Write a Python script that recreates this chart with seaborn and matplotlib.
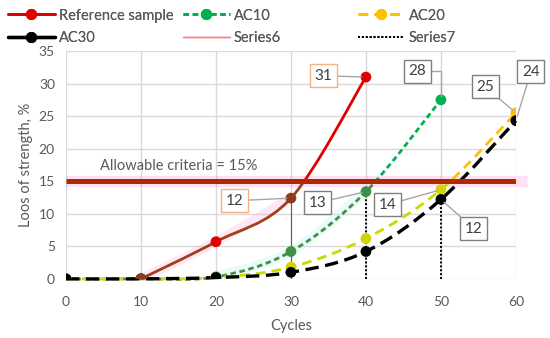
import numpy as np
import pandas as pd
import matplotlib
matplotlib.use("Agg")
import matplotlib.pyplot as plt
import seaborn as sns
from matplotlib.path import Path
from matplotlib.patches import PathPatch, Rectangle
from matplotlib.lines import Line2D

# data
cycles = [0, 10, 20, 30, 40, 50, 60]
ref_cycles = [10, 20, 30, 40]
ref_loss = [0, 5.7, 12.4, 31.0]
ac10_cycles = [0, 10, 20, 30, 40, 50]
ac10_loss = [0, 0, 0.3, 4.2, 13.4, 27.5]
ac20_loss = [0, 0, 0.2, 1.8, 6.2, 13.7, 25.5]
ac30_loss = [0, 0, 0.2, 1.0, 4.2, 12.2, 24.3]
criteria = 15
s6_x = [30, 30]
s6_y = [0, 12.4]
s7_x = [40, 50]
s7_y = [13.4, 13.7]

sns.set_theme(style="white")
plt.rcParams["font.family"] = ["Lato", "DejaVu Sans"]
grey = "#595959"

fig = plt.figure(figsize=(5.5, 3.38), dpi=100)
ax = fig.add_axes([0.12, 0.175, 0.818, 0.674])


def smooth_path(xs, ys):
    # Excel-like smoothed line as a bezier path through the points
    pts = np.column_stack([xs, ys]).astype(float)
    p = np.vstack([pts[0], pts, pts[-1]])
    verts = [pts[0]]
    codes = [Path.MOVETO]
    for i in range(1, len(p) - 2):
        c1 = p[i] + (p[i + 1] - p[i - 1]) / 6
        c2 = p[i + 1] - (p[i + 2] - p[i]) / 6
        verts += [c1, c2, p[i + 1]]
        codes += [Path.CURVE4] * 3
    return Path(verts, codes)


def draw_curve(xs, ys, bright, dim, lw, dashes, z):
    path = smooth_path(xs, ys)
    for col, y0, y1 in [(dim, -5, criteria), (bright, criteria, 40)]:
        patch = PathPatch(path, fill=False, edgecolor=col, lw=lw, zorder=z,
                          capstyle="butt")
        if dashes:
            patch.set_linestyle((0, dashes))
        ax.add_patch(patch)
        clip = Rectangle((-5, y0), 75, y1 - y0, transform=ax.transData)
        patch.set_clip_path(clip)


# glow under some lines
ax.plot([0, 61.5], [criteria, criteria], color="#FF66CC", lw=8, alpha=0.2,
        solid_capstyle="butt", zorder=2, clip_on=False)
glow = PathPatch(smooth_path(ref_cycles[:3], ref_loss[:3]), fill=False,
                 edgecolor="#FFB0E0", lw=7, alpha=0.3, zorder=2)
ax.add_patch(glow)
glow2 = PathPatch(smooth_path(ac10_cycles[2:5], ac10_loss[2:5]), fill=False,
                  edgecolor="#C0F8F4", lw=7, alpha=0.4, zorder=2)
ax.add_patch(glow2)

# vertical helper lines
ax.plot(s6_x, s6_y, color="#9C4A2A", lw=0.8, zorder=3)
for x, y in zip(s7_x, s7_y):
    ax.plot([x, x], [0, y], color="black", lw=1.4, ls=(0, (1, 1)), zorder=3)

draw_curve(cycles, ac30_loss, "black", "black", 2.4, (4, 2), 6)
draw_curve(cycles, ac20_loss, "#FFC000", "#CCD900", 2.0, (3.5, 2.2), 5)
draw_curve(ac10_cycles, ac10_loss, "#00B050", "#4E8B3F", 2.0, (2, 1.3), 4)
draw_curve(ref_cycles, ref_loss, "#E00000", "#A0401A", 2.0, None, 7)

# markers
sns.scatterplot(x=cycles, y=ac30_loss, color="black", s=60, zorder=9,
                edgecolor="none", ax=ax)
sns.scatterplot(x=cycles, y=ac20_loss,
                hue=["d" if v < criteria else "b" for v in ac20_loss],
                palette={"d": "#D4D400", "b": "#FFC000"}, s=60, zorder=8,
                edgecolor="none", legend=False, ax=ax)
sns.scatterplot(x=ac10_cycles, y=ac10_loss,
                hue=["d" if v < criteria else "b" for v in ac10_loss],
                palette={"d": "#3F8F45", "b": "#00B050"}, s=60, zorder=8,
                edgecolor="none", legend=False, ax=ax)
sns.scatterplot(x=ref_cycles, y=ref_loss,
                hue=["a", "b", "a", "b"],
                palette={"a": "#8F3A1A", "b": "#E00000"}, s=60, zorder=10,
                edgecolor="none", legend=False, ax=ax)

# criteria line
ax.plot([0, 60], [criteria, criteria], color="#B02A00", lw=3.6,
        solid_capstyle="butt", zorder=11)
ax.text(15, 17.4, "Allowable criteria = 15%", ha="center", va="center",
        fontsize=10.5, color=grey, zorder=12)

# data labels
labels = [
    ("31", 40, 31.0, 34.3, 31.2, "#F4B183"),
    ("12", 30, 12.4, 22.5, 12.0, "#F4B183"),
    ("28", 50, 27.5, 46.9, 31.9, "#7F7F7F"),
    ("13", 40, 13.4, 33.6, 11.7, "#7F7F7F"),
    ("25", 60, 25.5, 55.9, 29.5, "#7F7F7F"),
    ("14", 50, 13.7, 42.9, 11.4, "#7F7F7F"),
    ("24", 60, 24.3, 62.0, 31.8, "#7F7F7F"),
    ("12", 50, 12.2, 54.4, 7.7, "#7F7F7F"),
]
for txt, px, py, tx, ty, ec in labels:
    cs = "arc3"
    if txt == "28":
        cs = "angle,angleA=0,angleB=90,rad=0"
    ax.annotate(txt, xy=(px, py), xytext=(tx, ty), ha="center", va="center",
                fontsize=11, color="#404040", zorder=13, annotation_clip=False,
                bbox=dict(boxstyle="square,pad=0.3", fc="white", ec=ec, lw=1),
                arrowprops=dict(arrowstyle="-", color="#A6A6A6", lw=1,
                                shrinkA=0, shrinkB=3, connectionstyle=cs))

ax.set_xlim(0, 60)
ax.set_ylim(0, 35)
ax.set_xticks(range(0, 61, 10))
ax.set_yticks(range(0, 36, 5))
ax.grid(True, color="#D9D9D9", lw=1)
ax.set_axisbelow(True)
for s in ax.spines.values():
    s.set_visible(False)
ax.tick_params(colors=grey, labelsize=10, length=0)
ax.tick_params(axis="x", pad=12)
ax.tick_params(axis="y", pad=8)
ax.set_xlabel("Cycles", color=grey, fontsize=10.5, labelpad=8)
ax.set_ylabel("Loos of strength, %", color=grey, fontsize=10.5, labelpad=4)

handles = [
    Line2D([], [], color="#E00000", lw=2, marker="o", ms=7),
    Line2D([], [], color="#00B050", lw=2, ls=(0, (2, 1.3)), marker="o", ms=7),
    Line2D([], [], color="#FFC000", lw=2, ls=(0, (3.5, 2.2)), marker="o", ms=7),
    Line2D([], [], color="black", lw=2.4, marker="o", ms=7),
    Line2D([], [], color="#FF7C80", lw=1),
    Line2D([], [], color="black", lw=1.4, ls=(0, (1, 1))),
]
names = ["Reference sample", "AC10", "AC20", "AC30", "Series6", "Series7"]
# one legend per column, like Excel's equal-width columns
for col, x0 in enumerate([-0.004, 0.314, 0.632]):
    leg = fig.legend([handles[col], handles[col + 3]],
                     [names[col], names[col + 3]], loc="upper left",
                     bbox_to_anchor=(x0, 1.005), frameon=False,
                     fontsize=10.5, labelcolor=grey, handlelength=3.2,
                     handletextpad=0.3, labelspacing=0.6, borderpad=0.2)
    fig.add_artist(leg)

fig.savefig("out.png", dpi=100)
